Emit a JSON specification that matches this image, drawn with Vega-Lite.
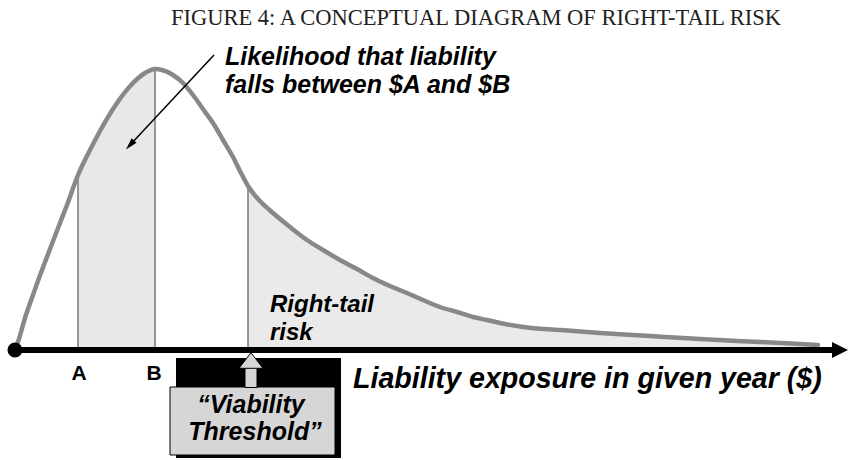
{
  "$schema": "https://vega.github.io/schema/vega-lite/v6.json",
  "width": 848,
  "height": 460,
  "autosize": {"type": "fit", "contains": "padding"},
  "padding": 0,
  "background": "white",
  "config": {"view": {"stroke": null}},
  "datasets": {
    "curve": [
      {"x": 15, "d": 0}, {"x": 18, "d": 8}, {"x": 25, "d": 32}, {"x": 33, "d": 55}, {"x": 42, "d": 80},
      {"x": 50, "d": 101}, {"x": 60, "d": 127}, {"x": 67, "d": 145}, {"x": 78, "d": 175}, {"x": 90, "d": 200},
      {"x": 100, "d": 219}, {"x": 117, "d": 247}, {"x": 133, "d": 267}, {"x": 145, "d": 277}, {"x": 155, "d": 281},
      {"x": 162, "d": 280}, {"x": 173, "d": 275}, {"x": 183, "d": 267}, {"x": 193, "d": 255}, {"x": 203, "d": 241},
      {"x": 213, "d": 227}, {"x": 223, "d": 210}, {"x": 233, "d": 193}, {"x": 241, "d": 177}, {"x": 248, "d": 164},
      {"x": 260, "d": 149}, {"x": 273, "d": 137}, {"x": 290, "d": 123}, {"x": 307, "d": 110}, {"x": 323, "d": 100},
      {"x": 340, "d": 90}, {"x": 357, "d": 81}, {"x": 373, "d": 72}, {"x": 390, "d": 64}, {"x": 407, "d": 57},
      {"x": 423, "d": 50}, {"x": 440, "d": 43}, {"x": 457, "d": 38}, {"x": 473, "d": 33}, {"x": 487, "d": 30},
      {"x": 500, "d": 27}, {"x": 523, "d": 23}, {"x": 560, "d": 20}, {"x": 600, "d": 17}, {"x": 650, "d": 14},
      {"x": 700, "d": 11}, {"x": 760, "d": 8}, {"x": 818, "d": 5}
    ],
    "marks": [
      {"x": 78, "d": 175, "base": 0, "name": "A"},
      {"x": 155, "d": 281, "base": 0, "name": "B"},
      {"x": 248, "d": 164, "base": 0, "name": "Threshold"}
    ]
  },
  "layer": [
    {
      "data": {"name": "curve"},
      "transform": [{"filter": "datum.x >= 78 && datum.x <= 155"}],
      "mark": {"type": "area", "interpolate": "monotone", "color": "#e8e8e8"},
      "encoding": {
        "x": {"field": "x", "type": "quantitative", "scale": {"domain": [0, 848], "nice": false, "zero": false}, "axis": null},
        "y": {"field": "d", "type": "quantitative", "scale": {"domain": [-110, 350], "nice": false, "zero": false}, "axis": null},
        "y2": {"datum": 0}
      }
    },
    {
      "data": {"name": "curve"},
      "transform": [{"filter": "datum.x >= 248"}],
      "mark": {"type": "area", "interpolate": "monotone", "color": "#eaeaea"},
      "encoding": {
        "x": {"field": "x", "type": "quantitative"},
        "y": {"field": "d", "type": "quantitative"},
        "y2": {"datum": 0}
      }
    },
    {
      "data": {"name": "marks"},
      "mark": {"type": "rule", "color": "#777777", "strokeWidth": 1.5},
      "encoding": {
        "x": {"field": "x", "type": "quantitative"},
        "y": {"field": "d", "type": "quantitative"},
        "y2": {"field": "base"}
      }
    },
    {
      "data": {"name": "curve"},
      "mark": {"type": "line", "interpolate": "monotone", "color": "#888888", "strokeWidth": 4.5, "strokeCap": "round"},
      "encoding": {
        "x": {"field": "x", "type": "quantitative"},
        "y": {"field": "d", "type": "quantitative"}
      }
    },
    {
      "data": {"values": [{"x": 15, "x2": 836, "d": 0}]},
      "mark": {"type": "rule", "color": "black", "strokeWidth": 6},
      "encoding": {
        "x": {"field": "x", "type": "quantitative"},
        "x2": {"field": "x2"},
        "y": {"field": "d", "type": "quantitative"}
      }
    },
    {
      "data": {"values": [{"x": 15, "d": 0}]},
      "mark": {"type": "point", "filled": true, "color": "black", "size": 227, "opacity": 1},
      "encoding": {
        "x": {"field": "x", "type": "quantitative"},
        "y": {"field": "d", "type": "quantitative"}
      }
    },
    {
      "data": {"values": [{"x": 840, "d": 0}]},
      "mark": {"type": "point", "filled": true, "color": "black", "size": 256, "opacity": 1, "shape": "M-1,-1L1,0L-1,1Z"},
      "encoding": {
        "x": {"field": "x", "type": "quantitative"},
        "y": {"field": "d", "type": "quantitative"}
      }
    },
    {
      "data": {"values": [{"x": 176, "x2": 341, "d": -8, "d2": -108}]},
      "mark": {"type": "rect", "color": "black"},
      "encoding": {
        "x": {"field": "x", "type": "quantitative"},
        "x2": {"field": "x2"},
        "y": {"field": "d", "type": "quantitative"},
        "y2": {"field": "d2"}
      }
    },
    {
      "data": {"values": [{"x": 170, "x2": 335, "d": -37, "d2": -105}]},
      "mark": {"type": "rect", "fill": "#d6d6d6", "stroke": "black", "strokeWidth": 1},
      "encoding": {
        "x": {"field": "x", "type": "quantitative"},
        "x2": {"field": "x2"},
        "y": {"field": "d", "type": "quantitative"},
        "y2": {"field": "d2"}
      }
    },
    {
      "data": {"values": [{"x": 245, "x2": 257, "d": -17, "d2": -37.5}]},
      "mark": {"type": "rect", "fill": "#d6d6d6", "stroke": "black", "strokeWidth": 1},
      "encoding": {
        "x": {"field": "x", "type": "quantitative"},
        "x2": {"field": "x2"},
        "y": {"field": "d", "type": "quantitative"},
        "y2": {"field": "d2"}
      }
    },
    {
      "data": {"values": [{"x": 251, "d": -10.5}]},
      "mark": {"type": "point", "filled": true, "fill": "#d6d6d6", "stroke": "black", "strokeWidth": 1, "size": 576, "opacity": 1, "shape": "M0,-0.65L1,0.65L-1,0.65Z"},
      "encoding": {
        "x": {"field": "x", "type": "quantitative"},
        "y": {"field": "d", "type": "quantitative"}
      }
    },
    {
      "data": {"values": [{"x": 214, "d": 295, "x2": 130, "d2": 205}]},
      "mark": {"type": "rule", "color": "black", "strokeWidth": 1.5},
      "encoding": {
        "x": {"field": "x", "type": "quantitative"},
        "x2": {"field": "x2"},
        "y": {"field": "d", "type": "quantitative"},
        "y2": {"field": "d2"}
      }
    },
    {
      "data": {"values": [{"x": 130, "d": 205}]},
      "mark": {"type": "point", "filled": true, "color": "black", "size": 144, "opacity": 1, "angle": 222.7, "shape": "M0,-1L0.55,1L-0.55,1Z"},
      "encoding": {
        "x": {"field": "x", "type": "quantitative"},
        "y": {"field": "d", "type": "quantitative"}
      }
    },
    {
      "data": {"values": [{"x": 476, "d": 325, "label": "FIGURE 4: A CONCEPTUAL DIAGRAM OF RIGHT-TAIL RISK"}]},
      "mark": {"type": "text", "font": "Liberation Serif", "fontSize": 22.5, "align": "center", "baseline": "alphabetic", "color": "#222222"},
      "encoding": {
        "x": {"field": "x", "type": "quantitative"},
        "y": {"field": "d", "type": "quantitative"},
        "text": {"field": "label"}
      }
    },
    {
      "data": {"values": [
        {"x": 225, "d": 285, "label": "Likelihood that liability"},
        {"x": 225, "d": 257, "label": "falls between $A and $B"}
      ]},
      "mark": {"type": "text", "font": "Liberation Sans", "fontSize": 25, "fontWeight": "bold", "fontStyle": "italic", "align": "left", "baseline": "alphabetic", "color": "black"},
      "encoding": {
        "x": {"field": "x", "type": "quantitative"},
        "y": {"field": "d", "type": "quantitative"},
        "text": {"field": "label"}
      }
    },
    {
      "data": {"values": [
        {"x": 270, "d": 38, "label": "Right-tail"},
        {"x": 270, "d": 10, "label": "risk"}
      ]},
      "mark": {"type": "text", "font": "Liberation Sans", "fontSize": 24, "fontWeight": "bold", "fontStyle": "italic", "align": "left", "baseline": "alphabetic", "color": "black"},
      "encoding": {
        "x": {"field": "x", "type": "quantitative"},
        "y": {"field": "d", "type": "quantitative"},
        "text": {"field": "label"}
      }
    },
    {
      "data": {"values": [{"x": 353, "d": -38, "label": "Liability exposure in given year ($)"}]},
      "mark": {"type": "text", "font": "Liberation Sans", "fontSize": 28.6, "fontWeight": "bold", "fontStyle": "italic", "align": "left", "baseline": "alphabetic", "color": "black"},
      "encoding": {
        "x": {"field": "x", "type": "quantitative"},
        "y": {"field": "d", "type": "quantitative"},
        "text": {"field": "label"}
      }
    },
    {
      "data": {"values": [
        {"x": 79, "d": -30, "label": "A"},
        {"x": 154, "d": -30, "label": "B"}
      ]},
      "mark": {"type": "text", "font": "Liberation Sans", "fontSize": 21, "fontWeight": "bold", "align": "center", "baseline": "alphabetic", "color": "black"},
      "encoding": {
        "x": {"field": "x", "type": "quantitative"},
        "y": {"field": "d", "type": "quantitative"},
        "text": {"field": "label"}
      }
    },
    {
      "data": {"values": [
        {"x": 251, "d": -63, "label": "“Viability"},
        {"x": 255, "d": -90, "label": "Threshold”"}
      ]},
      "mark": {"type": "text", "font": "Liberation Sans", "fontSize": 25, "fontWeight": "bold", "fontStyle": "italic", "align": "center", "baseline": "alphabetic", "color": "black"},
      "encoding": {
        "x": {"field": "x", "type": "quantitative"},
        "y": {"field": "d", "type": "quantitative"},
        "text": {"field": "label"}
      }
    }
  ]
}
